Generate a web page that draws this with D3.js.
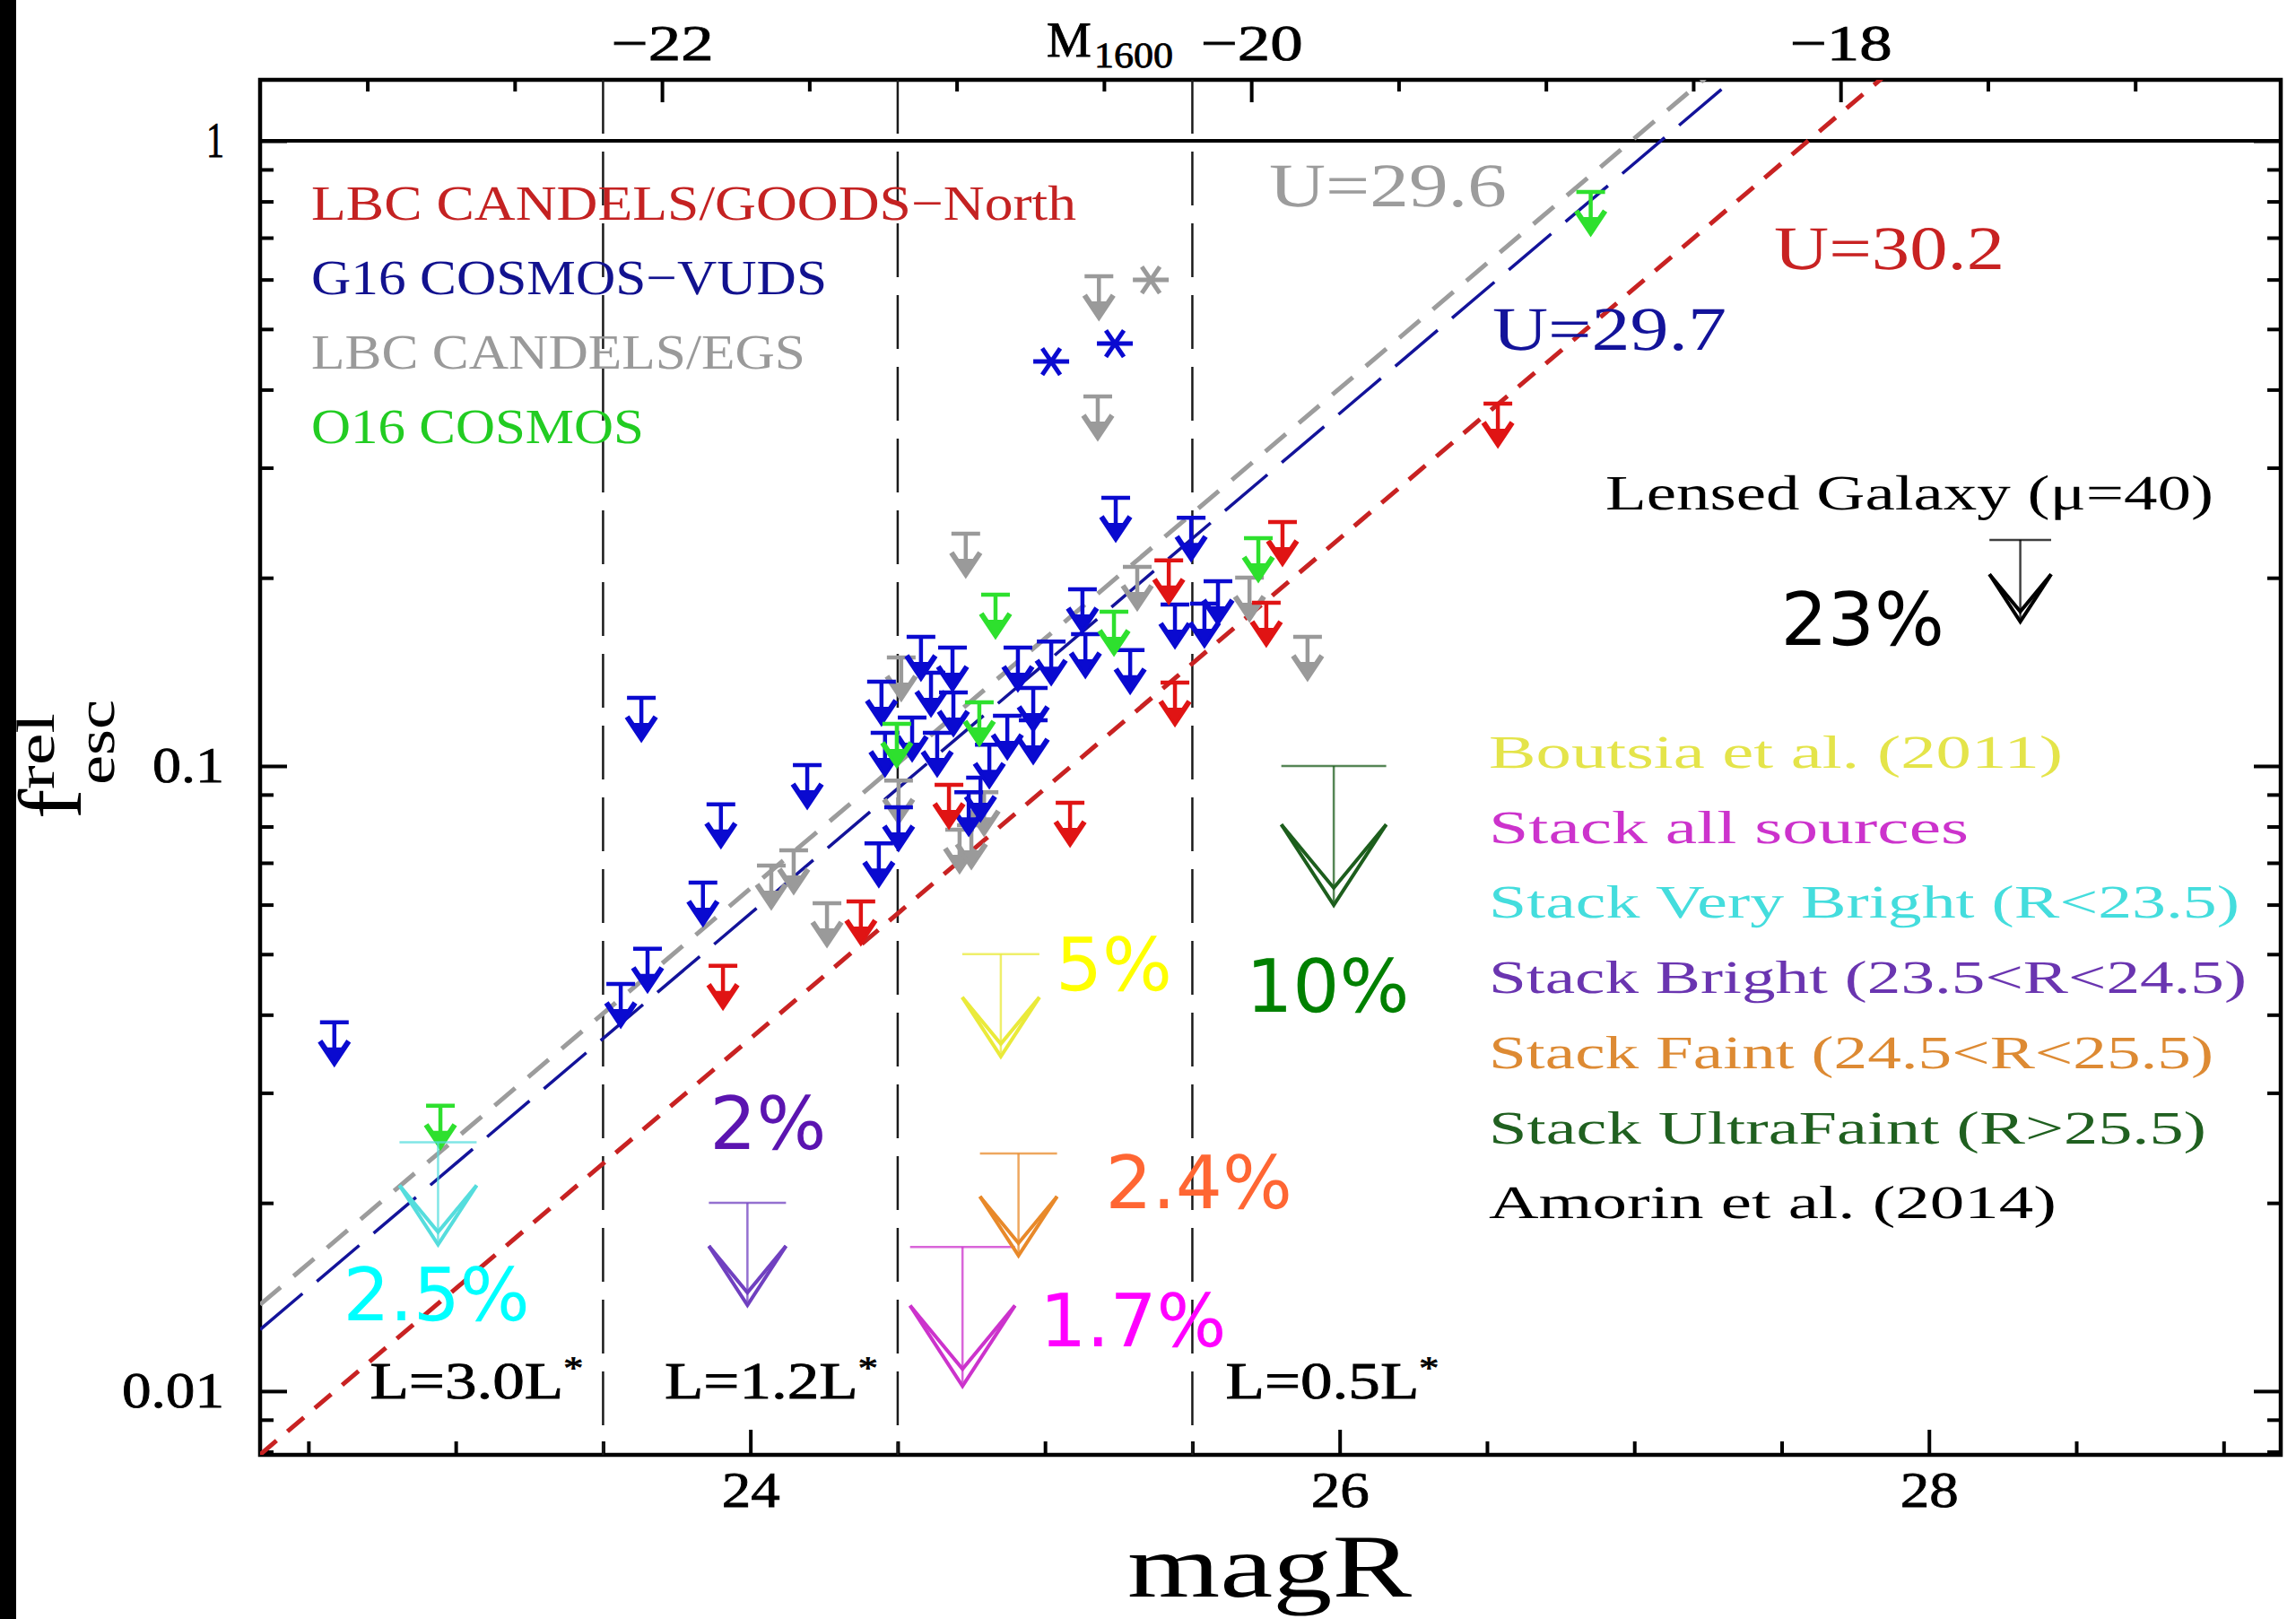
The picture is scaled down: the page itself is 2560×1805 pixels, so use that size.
<!DOCTYPE html>
<html>
<head>
<meta charset="utf-8">
<script src="https://cdn.jsdelivr.net/npm/d3@7"></script>
<style>
  html, body { margin: 0; padding: 0; background: #fff; }
  svg { display: block; }
</style>
</head>
<body>
<svg id="chart" width="2560" height="1805"></svg>
<script>
// ---------------------------------------------------------------
// Data: relative escape fraction (upper limits) vs. R magnitude
// ---------------------------------------------------------------

// LBC CANDELS/GOODS-North upper limits
const goodsNorthMag  = [23.907, 24.375, 24.674, 25.085, 25.420, 25.441, 25.751, 25.806, 26.537];
const goodsNorthFesc = [0.0479, 0.0607, 0.0933, 0.0873, 0.2132, 0.1360, 0.1824, 0.2456, 0.3799];

// G16 COSMOS-VUDS upper limits
const vudsMag  = [22.588, 23.630, 23.900, 23.839, 23.651, 23.560, 24.193, 24.436, 24.503, 24.445, 24.457,
                  24.549, 24.579, 24.613, 24.634, 24.686, 24.689, 24.741, 24.781, 24.811, 24.872, 24.908,
                  24.960, 24.960, 25.021, 25.127, 25.137, 25.240, 25.289, 25.441, 25.496, 25.541, 25.587];
const vudsFesc = [0.0389, 0.1285, 0.0868, 0.0651, 0.0510, 0.0448, 0.1003, 0.0752, 0.0859, 0.1364, 0.1130,
                  0.1195, 0.1609, 0.1410, 0.1130, 0.1546, 0.1311, 0.0908, 0.0958, 0.1082, 0.1203, 0.1546,
                  0.1333, 0.1183, 0.1582, 0.1917, 0.1625, 0.2685, 0.1532, 0.1812, 0.2496, 0.1818, 0.1975];
// G16 COSMOS-VUDS detections
const vudsDetMag  = [25.021, 25.237];
const vudsDetFesc = [0.4436, 0.4739];

// LBC CANDELS/EGS upper limits
const egsMag  = [24.071, 24.147, 24.260, 24.503, 24.512, 24.710, 24.750, 24.793, 24.731, 25.179, 25.183,
                 25.313, 25.694, 25.891];
const egsFesc = [0.0693, 0.0733, 0.0603, 0.0948, 0.1492, 0.0791, 0.0804, 0.0908, 0.2352, 0.3901, 0.6072,
                 0.2083, 0.2001, 0.1609];
// LBC CANDELS/EGS detection
const egsDetMag  = [25.359];
const egsDetFesc = [0.5991];

// O16 COSMOS upper limits
const o16Mag  = [22.948, 24.497, 24.777, 24.832, 25.234, 25.724, 26.852];
const o16Fesc = [0.0286, 0.1168, 0.1264, 0.1879, 0.1765, 0.2314, 0.8282];

// Stacks and literature limits
const stackNames = ["Boutsia et al. (2011)", "Stack all sources", "Stack Very Bright (R<23.5)",
                    "Stack Bright (23.5<R<24.5)", "Stack Faint (24.5<R<25.5)",
                    "Stack UltraFaint (R>25.5)", "Amorin et al. (2014)"];
const stackMag  = [24.85, 24.72, 22.94, 23.99, 24.91, 25.98, 28.31];
const stackFesc = [0.05, 0.017, 0.025, 0.02, 0.024, 0.10, 0.23];

// Survey names (legend) and U-band depths of each survey
const surveyNames = ["LBC CANDELS/GOODS\u2212North", "G16 COSMOS\u2212VUDS", "LBC CANDELS/EGS", "O16 COSMOS"];
const depthU = [29.6, 29.7, 30.2];

// Luminosity bins (R magnitude) and their labels
const lumCutMag = [23.5, 24.5, 25.5];
const lumCutLabels = ["L=3.0L", "L=1.2L", "L=0.5L"];

// Axis ticks
const yMajorTicks = [0.01, 0.1, 1];
const xMajorTicks = [24, 26, 28];
const mTopMajorTicks = [-22, -20, -18];

// ---------------------------------------------------------------
// Styles and layout
// ---------------------------------------------------------------
const SERIF = "'Liberation Serif', 'Times New Roman', serif";
const SANS = "'DejaVu Sans', 'Verdana', sans-serif";

const W = 2560, H = 1805;
const plot = { left: 290, right: 2543, top: 89, bottom: 1622 };
const M_OFFSET = 45.70;          // magR - M1600
const ZP = 2.61;                 // magnitude offset of the depth lines (f = 1 at R = U - ZP)

const surveyTextColors = ["#c42222", "#12128f", "#9a9a9a", "#22cc22"];
const surveyLegend = { x: 347, y0: 245, dy: 83, size: 55, widths: [853, 575, 551, 371] };

const depthStyles = [
  { color: "#9c9c9c", width: 5,   dash: "30,19", label: { x: 1415, y: 230, w: 265 } },
  { color: "#13139a", width: 3.5, dash: "62,21", label: { x: 1664, y: 390, w: 261 } },
  { color: "#c82222", width: 5,   dash: "24,16", label: { x: 1978, y: 300, w: 257 } }
];

const limitColors = { goodsNorth: "#e01414", vuds: "#0a0ad0", egs: "#9a9a9a", o16: "#2ee02e" };

const stackTextColors  = ["#e4e44a", "#cc33cc", "#44dddd", "#6a35b0", "#dd8a33", "#206020", "#000000"];
const stackArrowColors = ["#eaea3a", "#cc33cc", "#55dddd", "#7040c0", "#e8892a", "#1d5e1d", "#000000"];
const stackScale       = [1, 1.36, 1, 1, 1, 1.36, 0.8];
const pctColors  = ["#ffff00", "#ff00ff", "#00ffff", "#5b14b0", "#ff6633", "#008000", "#000000"];
const pctOffsets = [[61, 40], [86, 111], [-106, 198], [-42, -60], [97, 61], [-98, 274], [-267, 117]];
const stackLegend = { x: 1660, y0: 856, dy: 83.7, size: 52, widths: [640, 535, 837, 845, 808, 800, 633] };

// ---------------------------------------------------------------
// Scales
// ---------------------------------------------------------------
const x = d3.scaleLinear().domain([22.336, 29.194]).range([plot.left, plot.right]);
const y = d3.scaleLog().domain([0.007907, 1.2521]).range([plot.bottom, plot.top]);
const xTop = d3.scaleLinear().domain(x.domain().map(d => d - M_OFFSET)).range(x.range());

const svg = d3.select("#chart").attr("text-rendering", "geometricPrecision");

svg.append("rect").attr("width", W).attr("height", H).attr("fill", "#fff");
svg.append("rect").attr("x", 0).attr("y", 0).attr("width", 18).attr("height", H).attr("fill", "#000");

svg.append("defs").append("clipPath").attr("id", "plotClip")
  .append("rect")
  .attr("x", plot.left).attr("y", plot.top)
  .attr("width", plot.right - plot.left).attr("height", plot.bottom - plot.top);

// ---------------------------------------------------------------
// Axes (ticks point inward)
// ---------------------------------------------------------------
function styleAxis(g, fontSize) {
  g.select(".domain").remove();
  g.selectAll(".tick line").attr("stroke", "#000").attr("stroke-width", 4);
  g.selectAll("text")
    .attr("font-family", SERIF).attr("font-size", fontSize)
    .attr("fill", "#000").attr("stroke", "#000").attr("stroke-width", 0.8);
}
const minorOnly = g => { styleAxis(g, 56); g.selectAll("text").remove(); };

const yMinor = [];
[0.001, 0.01, 0.1].forEach(dec => { for (let k = 2; k <= 9; k++) yMinor.push(+(k * dec).toPrecision(3)); });
const yMinorTicks = yMinor.filter(v => v >= y.domain()[0] && v <= y.domain()[1]);

// left
svg.append("g").attr("transform", `translate(${plot.left},0)`)
  .call(d3.axisLeft(y).tickValues(yMajorTicks).tickSize(-30).tickPadding(40).tickFormat(d3.format("~g")))
  .call(g => styleAxis(g, 56))
  .call(g => g.selectAll("text")
    .attr("textLength", d => ({ 0.01: 114, 0.1: 80, 1: 20 })[d])
    .attr("lengthAdjust", "spacingAndGlyphs"));
svg.append("g").attr("transform", `translate(${plot.left},0)`)
  .call(d3.axisLeft(y).tickValues(yMinorTicks).tickSize(-15))
  .call(minorOnly);

// right
svg.append("g").attr("transform", `translate(${plot.right},0)`)
  .call(d3.axisRight(y).tickValues(yMajorTicks).tickSize(-30))
  .call(minorOnly);
svg.append("g").attr("transform", `translate(${plot.right},0)`)
  .call(d3.axisRight(y).tickValues(yMinorTicks).tickSize(-15))
  .call(minorOnly);

// bottom
const xMinorTicks = d3.range(22.5, 29.01, 0.5).filter(v => !xMajorTicks.includes(v));
svg.append("g").attr("transform", `translate(0,${plot.bottom})`)
  .call(d3.axisBottom(x).tickValues(xMajorTicks).tickSize(-28).tickPadding(18).tickFormat(d3.format("d")))
  .call(g => styleAxis(g, 56))
  .call(g => g.selectAll("text").attr("textLength", 65).attr("lengthAdjust", "spacingAndGlyphs"));
svg.append("g").attr("transform", `translate(0,${plot.bottom})`)
  .call(d3.axisBottom(x).tickValues(xMinorTicks).tickSize(-15))
  .call(minorOnly);

// top (absolute UV magnitude)
const mTopMinorTicks = d3.range(-23, -16.9, 0.5).filter(v => !mTopMajorTicks.includes(v));
svg.append("g").attr("transform", `translate(0,${plot.top})`)
  .call(d3.axisTop(xTop).tickValues(mTopMajorTicks).tickSize(-25).tickPadding(22).tickFormat(d3.format("d")))
  .call(g => styleAxis(g, 56))
  .call(g => g.selectAll("text").attr("textLength", 114).attr("lengthAdjust", "spacingAndGlyphs"));
svg.append("g").attr("transform", `translate(0,${plot.top})`)
  .call(d3.axisTop(xTop).tickValues(mTopMinorTicks).tickSize(-13))
  .call(minorOnly);

// plot frame
svg.append("rect")
  .attr("x", plot.left).attr("y", plot.top)
  .attr("width", plot.right - plot.left).attr("height", plot.bottom - plot.top)
  .attr("fill", "none").attr("stroke", "#000").attr("stroke-width", 4.5);

// top axis title: M_1600
const mTitle = svg.append("text").attr("font-family", SERIF).attr("fill", "#000")
  .attr("stroke", "#000").attr("stroke-width", 0.8);
mTitle.append("tspan").attr("x", 1167).attr("y", 63).attr("font-size", 56).text("M");
mTitle.append("tspan").attr("x", 1220).attr("y", 75).attr("font-size", 40)
  .attr("textLength", 88).attr("lengthAdjust", "spacingAndGlyphs").text("1600");

// bottom axis title
svg.append("text").attr("x", 1257).attr("y", 1780)
  .attr("font-family", SERIF).attr("font-size", 100).attr("fill", "#000")
  .attr("textLength", 317).attr("lengthAdjust", "spacingAndGlyphs").text("magR");

// left axis title: f_esc^rel
const yTitle = svg.append("g").attr("transform", "translate(90,913) rotate(-90)")
  .attr("font-family", SERIF).attr("fill", "#000");
yTitle.append("text").attr("x", 0).attr("y", 0).attr("font-size", 100).text("f");
yTitle.append("text").attr("x", 33).attr("y", -30).attr("font-size", 60)
  .attr("textLength", 85).attr("lengthAdjust", "spacingAndGlyphs").text("rel");
yTitle.append("text").attr("x", 38).attr("y", 37).attr("font-size", 60)
  .attr("textLength", 95).attr("lengthAdjust", "spacingAndGlyphs").text("esc");

// ---------------------------------------------------------------
// Plot interior
// ---------------------------------------------------------------
const inner = svg.append("g").attr("clip-path", "url(#plotClip)");

// luminosity bin edges
inner.selectAll("line.cut").data(lumCutMag).join("line").attr("class", "cut")
  .attr("x1", d => x(d)).attr("x2", d => x(d))
  .attr("y1", plot.top).attr("y2", plot.bottom)
  .attr("stroke", "#1a1a1a").attr("stroke-width", 2.5).attr("stroke-dasharray", "60,20");

// f = 1 reference
inner.append("line")
  .attr("x1", plot.left).attr("x2", plot.right)
  .attr("y1", y(1)).attr("y2", y(1))
  .attr("stroke", "#000").attr("stroke-width", 4);

// depth lines: escape fraction reached at the U-band limit of each survey
const depthLine = d3.line().x(d => x(d[0])).y(d => y(d[1]));
depthU.forEach((U, i) => {
  const st = depthStyles[i];
  const pts = x.domain().map(R => [R, Math.pow(10, 0.4 * (R - U + ZP))]);
  inner.append("path").attr("d", depthLine(pts))
    .attr("fill", "none").attr("stroke", st.color)
    .attr("stroke-width", st.width).attr("stroke-dasharray", st.dash);
});

// depth labels
depthU.forEach((U, i) => {
  const st = depthStyles[i];
  svg.append("text").attr("x", st.label.x).attr("y", st.label.y)
    .attr("font-family", SERIF).attr("font-size", 69).attr("fill", st.color)
    .attr("textLength", st.label.w).attr("lengthAdjust", "spacingAndGlyphs")
    .text("U=" + U.toFixed(1));
});

// small upper-limit arrow
function limitArrow(g, px, py, color) {
  const a = g.append("g").attr("stroke", color).attr("fill", color);
  a.append("line").attr("x1", px - 16).attr("x2", px + 16).attr("y1", py).attr("y2", py).attr("stroke-width", 4.5);
  a.append("line").attr("x1", px).attr("x2", px).attr("y1", py).attr("y2", py + 42).attr("stroke-width", 4.5);
  const tip = py + 45;
  a.append("path").attr("d", `M${px - 16},${tip - 24}L${px},${tip}L${px + 16},${tip - 24}`)
    .attr("fill", "none").attr("stroke-width", 6).attr("stroke-linejoin", "miter");
  a.append("path").attr("d", `M${px - 10},${tip - 17}L${px},${tip}L${px + 10},${tip - 17}Z`)
    .attr("stroke", "none");
}

// asterisk for detections
function asterisk(g, px, py, color) {
  const r = 20;
  const a = g.append("g").attr("stroke", color).attr("stroke-width", 5);
  [0, 60, 120].forEach(ang => {
    const t = ang * Math.PI / 180;
    const dx = r * Math.cos(t), dy = r * 0.85 * Math.sin(t);
    a.append("line").attr("x1", px - dx).attr("x2", px + dx).attr("y1", py - dy).attr("y2", py + dy);
  });
}

const pts = svg.append("g");
const drawSeries = (mags, fescs, color) =>
  mags.forEach((m, i) => limitArrow(pts, x(m), y(fescs[i]), color));

drawSeries(egsMag, egsFesc, limitColors.egs);
drawSeries(vudsMag, vudsFesc, limitColors.vuds);
drawSeries(goodsNorthMag, goodsNorthFesc, limitColors.goodsNorth);
drawSeries(o16Mag, o16Fesc, limitColors.o16);
vudsDetMag.forEach((m, i) => asterisk(pts, x(m), y(vudsDetFesc[i]), limitColors.vuds));
egsDetMag.forEach((m, i) => asterisk(pts, x(m), y(egsDetFesc[i]), limitColors.egs));

// large upper-limit arrows for stacks / literature values
function stackArrow(g, px, py, color, k) {
  const hw = 43 * k, len = 114 * k, hh = 66 * k, notch = 14 * k;
  const tip = py + len;
  const a = g.append("g").attr("stroke", color).attr("fill", "none");
  a.append("line").attr("x1", px - hw).attr("x2", px + hw).attr("y1", py).attr("y2", py)
    .attr("stroke-width", 2.5).attr("stroke-opacity", 0.75);
  a.append("line").attr("x1", px).attr("x2", px).attr("y1", py).attr("y2", tip - 4)
    .attr("stroke-width", 2.5).attr("stroke-opacity", 0.75);
  a.append("path").attr("d", `M${px - hw},${tip - hh}L${px},${tip}L${px + hw},${tip - hh}`)
    .attr("stroke-width", 4);
  a.append("path").attr("d", `M${px - hw},${tip - hh}L${px},${tip - notch}L${px + hw},${tip - hh}`)
    .attr("stroke-width", 4);
}

const pctText = v => { const s = (v * 100).toFixed(1); return (s.endsWith(".0") ? s.slice(0, -2) : s) + "%"; };

stackMag.forEach((m, i) => {
  const px = x(m), py = y(stackFesc[i]);
  stackArrow(svg, px, py, stackArrowColors[i], stackScale[i]);
  svg.append("text")
    .attr("x", px + pctOffsets[i][0]).attr("y", py + pctOffsets[i][1])
    .attr("font-family", SANS).attr("font-size", 82).attr("fill", pctColors[i])
    .text(pctText(stackFesc[i]));
});

// ---------------------------------------------------------------
// Text annotations and legends
// ---------------------------------------------------------------
surveyNames.forEach((name, i) => {
  svg.append("text")
    .attr("x", surveyLegend.x).attr("y", surveyLegend.y0 + i * surveyLegend.dy)
    .attr("font-family", SERIF).attr("font-size", surveyLegend.size).attr("fill", surveyTextColors[i])
    .attr("textLength", surveyLegend.widths[i]).attr("lengthAdjust", "spacingAndGlyphs")
    .text(name);
});

stackNames.forEach((name, i) => {
  svg.append("text")
    .attr("x", stackLegend.x).attr("y", stackLegend.y0 + i * stackLegend.dy)
    .attr("font-family", SERIF).attr("font-size", stackLegend.size).attr("fill", stackTextColors[i])
    .attr("textLength", stackLegend.widths[i]).attr("lengthAdjust", "spacingAndGlyphs")
    .text(name);
});

svg.append("text").attr("x", 1790).attr("y", 568)
  .attr("font-family", SERIF).attr("font-size", 55).attr("fill", "#000")
  .attr("textLength", 678).attr("lengthAdjust", "spacingAndGlyphs")
  .text("Lensed Galaxy (\u03bc=40)");

// luminosity bin labels
lumCutMag.forEach((m, i) => {
  const right = i === lumCutMag.length - 1;
  const t = svg.append("text")
    .attr("x", right ? x(m) + 37 : x(m) - 22).attr("y", 1559)
    .attr("text-anchor", right ? "start" : "end")
    .attr("font-family", SERIF).attr("font-size", 58).attr("fill", "#000")
    .attr("stroke", "#000").attr("stroke-width", 0.8)
    .attr("textLength", 238).attr("lengthAdjust", "spacingAndGlyphs");
  t.append("tspan").text(lumCutLabels[i]);
  t.append("tspan").attr("dy", -22).attr("font-size", 36).text("*");
});
</script>
</body>
</html>
